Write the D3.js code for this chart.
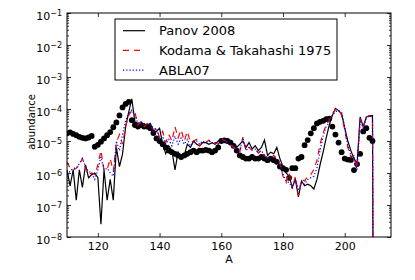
<!DOCTYPE html>
<html>
<head>
<meta charset="utf-8">
<script src="https://cdn.jsdelivr.net/npm/d3@7"></script>
<style>
body { margin: 0; background: #fff; }
text { font-family: "DejaVu Sans", sans-serif; fill: #000; }
</style>
</head>
<body>
<div id="chart"></div>
<script>
// mass numbers A of the lines (110..210), dots stop at 209
var massNumbers = d3.range(110, 211);

// log10 of abundance
var solarLog = [
 -4.76,-4.73,-4.78,-4.82,-4.87,-4.90,-4.92,-4.89,-4.84,-5.18,
 -5.12,-5.02,-4.92,-4.82,-4.72,-4.57,-4.42,-4.20,-3.95,-3.84,
 -3.78,-4.35,-4.50,-4.55,-4.50,-4.55,-4.55,-4.60,-4.75,-4.92,
 -5.00,-5.10,-5.20,-5.30,-5.35,-5.40,-5.45,-5.50,-5.45,-5.40,
 -5.35,-5.30,-5.35,-5.30,-5.30,-5.28,-5.30,-5.35,-5.30,-5.20,
 -5.00,-4.98,-5.00,-5.05,-5.15,-5.30,-5.45,-5.50,-5.55,-5.55,
 -5.50,-5.55,-5.55,-5.50,-5.55,-5.60,-5.55,-5.60,-5.65,-5.80,
 -5.85,-5.90,-6.15,-5.85,-5.85,-5.55,-5.50,-5.13,-4.97,-4.76,
 -4.60,-4.45,-4.40,-4.37,-4.32,-4.30,-4.55,-4.80,-5.05,-5.35,
 -5.55,-5.58,-5.59,-5.91,-5.72,-5.40,-4.70,-4.60,-4.90,-5.00
];
var panovLog = [
 -5.90,-6.40,-5.90,-6.85,-5.90,-6.45,-5.75,-6.15,-6.05,-6.00,
 -6.15,-7.60,-5.90,-6.85,-6.20,-6.85,-5.20,-5.80,-5.40,-4.55,
 -4.10,-3.68,-4.40,-4.45,-4.50,-4.45,-4.55,-4.45,-4.75,-4.70,
 -4.60,-5.10,-5.40,-5.15,-5.30,-5.90,-5.35,-5.50,-5.45,-5.10,
 -5.20,-5.00,-5.10,-5.15,-5.05,-5.05,-5.10,-5.05,-5.10,-5.00,
 -4.97,-4.97,-5.00,-5.05,-5.10,-5.20,-5.10,-5.00,-5.20,-5.05,
 -5.25,-5.15,-5.30,-5.20,-4.97,-5.45,-5.35,-5.40,-5.20,-5.55,
 -5.80,-6.00,-6.10,-6.45,-6.20,-6.75,-6.25,-6.40,-6.35,-6.40,
 -6.50,-6.20,-5.75,-5.35,-4.90,-4.50,-4.20,-3.98,-4.05,-4.15,
 -4.60,-5.00,-5.30,-5.55,-5.70,-4.25,-4.55,-4.25,-4.22,-4.20,
 -30
];
var kodamaLog = [
 -5.65,-5.85,-5.90,-5.85,-5.75,-5.55,-5.85,-6.05,-6.00,-6.05,
 -5.75,-5.30,-5.90,-5.90,-5.55,-5.95,-5.05,-4.80,-5.10,-4.55,
 -4.20,-4.05,-4.10,-4.50,-4.40,-4.55,-4.45,-4.50,-4.65,-4.60,
 -4.90,-4.70,-5.05,-4.80,-5.00,-4.55,-4.90,-4.65,-5.00,-4.70,
 -5.05,-5.00,-4.95,-5.15,-5.00,-5.05,-4.97,-5.10,-5.05,-5.10,
 -4.95,-4.97,-5.05,-5.10,-5.20,-5.25,-5.35,-4.88,-5.30,-5.20,
 -5.30,-5.25,-5.38,-5.30,-5.45,-5.55,-5.55,-5.45,-5.55,-5.70,
 -6.10,-6.30,-6.00,-6.50,-6.10,-6.70,-6.20,-6.25,-6.10,-6.05,
 -5.90,-5.60,-5.10,-4.75,-4.50,-4.35,-4.15,-4.02,-4.00,-4.20,
 -4.65,-5.20,-5.50,-5.45,-5.85,-4.30,-4.55,-4.25,-4.20,-4.25,
 -30
];
var ablaLog = [
 -6.05,-5.95,-5.85,-5.85,-5.70,-5.55,-5.80,-5.95,-6.00,-6.20,
 -5.90,-5.50,-5.90,-5.85,-6.00,-6.10,-5.00,-5.30,-4.80,-4.35,
 -4.15,-4.03,-4.20,-4.45,-4.40,-4.50,-4.50,-4.45,-4.70,-4.60,
 -4.95,-4.85,-5.10,-4.95,-5.15,-4.85,-5.10,-4.90,-5.10,-4.95,
 -5.15,-5.05,-5.00,-5.10,-5.00,-5.05,-5.00,-5.05,-5.05,-5.10,
 -4.97,-5.00,-5.05,-5.10,-5.15,-5.25,-5.30,-4.90,-5.30,-5.20,
 -5.25,-5.25,-5.35,-5.30,-5.45,-5.55,-5.50,-5.50,-5.60,-5.75,
 -6.05,-6.25,-6.30,-6.45,-6.20,-6.55,-6.30,-6.35,-6.20,-6.15,
 -6.10,-5.85,-5.30,-4.85,-4.55,-4.40,-4.20,-4.08,-4.05,-4.10,
 -4.55,-5.15,-5.45,-5.50,-5.90,-4.35,-4.60,-4.30,-4.20,-4.30,
 -30
];

var xTicks = [120, 140, 160, 180, 200];
var yExponents = [-8, -7, -6, -5, -4, -3, -2, -1];
var seriesNames = ["Panov 2008", "Kodama & Takahashi 1975", "ABLA07"];

var W = 415, H = 280;
var margins = {top: 13, right: 24, bottom: 43, left: 67};
var width = W - margins.left - margins.right;
var height = H - margins.top - margins.bottom;

var svg = d3.select("#chart").append("svg")
    .attr("width", W).attr("height", H);
var g = svg.append("g")
    .attr("transform", "translate(" + margins.left + "," + margins.top + ")");

var x = d3.scaleLinear().domain([110, 215]).range([0, width]);
var y = d3.scaleLog().domain([1e-8, 1e-1]).range([height, 0]);

g.append("clipPath").attr("id", "clip")
  .append("rect").attr("width", width).attr("height", height);

function toPoints(logs) {
    return logs.map(function(v, i) { return {a: massNumbers[i], v: Math.pow(10, v)}; });
}

var plot = g.append("g").attr("clip-path", "url(#clip)");

// solar points
plot.selectAll("circle.solar").data(toPoints(solarLog)).enter()
    .append("circle").attr("class", "solar")
    .attr("cx", function(d) { return x(d.a); })
    .attr("cy", function(d) { return y(d.v); })
    .attr("r", 2.9).attr("fill", "#000");

var line = d3.line()
    .x(function(d) { return x(d.a); })
    .y(function(d) { return y(d.v); });

var styles = [
    {color: "#000000", dash: null},
    {color: "#ff0000", dash: "6,5"},
    {color: "#0000ff", dash: "1.2,2"}
];
[panovLog, kodamaLog, ablaLog].forEach(function(s, i) {
    plot.append("path").attr("d", line(toPoints(s)))
        .attr("fill", "none").attr("stroke", styles[i].color)
        .attr("stroke-width", 1.2)
        .attr("stroke-dasharray", styles[i].dash);
});

// ticks, all pointing inward
var minorTicks = [];
yExponents.slice(0, -1).forEach(function(e) {
    for (var k = 2; k < 10; k++) minorTicks.push(k * Math.pow(10, e));
});
var majorY = yExponents.map(function(e) { return Math.pow(10, e); });

g.append("g").attr("transform", "translate(0," + height + ")")
    .call(d3.axisBottom(x).tickValues(xTicks).tickSize(-4).tickPadding(5));
g.append("g")
    .call(d3.axisTop(x).tickValues(xTicks).tickSize(-4).tickFormat(""));

var yAxis = g.append("g")
    .call(d3.axisLeft(y).tickValues(majorY).tickSize(-4).tickPadding(5));
g.append("g").call(d3.axisLeft(y).tickValues(minorTicks).tickSize(-2).tickFormat(""));
g.append("g").attr("transform", "translate(" + width + ",0)")
    .call(d3.axisRight(y).tickValues(majorY).tickSize(-4).tickFormat(""));
g.append("g").attr("transform", "translate(" + width + ",0)")
    .call(d3.axisRight(y).tickValues(minorTicks).tickSize(-2).tickFormat(""));

g.selectAll(".domain").remove();
g.selectAll(".tick line").attr("stroke", "#000").attr("stroke-width", 0.8);
g.selectAll(".tick text").attr("font-size", 11).attr("font-family", "DejaVu Sans");

yAxis.selectAll(".tick text").each(function(d) {
    var t = d3.select(this).text("10").attr("dy", "0.55em");
    t.append("tspan").attr("dy", "-0.5em").attr("font-size", 8)
        .text("\u2212" + Math.round(-Math.log10(d)));
});

g.append("rect").attr("width", width).attr("height", height)
    .attr("fill", "none").attr("stroke", "#000").attr("stroke-width", 1);

// axis labels
g.append("text").attr("x", width / 2).attr("y", height + 26)
    .attr("text-anchor", "middle").attr("font-size", 11).text("A");
g.append("text").attr("text-anchor", "middle").attr("font-size", 10)
    .attr("transform", "translate(" + (-32) + "," + (height / 2 - 3) + ")rotate(-90)")
    .text("abundance");

// legend
var legend = svg.append("g").attr("transform", "translate(115,19)");
legend.append("rect").attr("width", 222).attr("height", 61)
    .attr("fill", "#fff").attr("stroke", "#000").attr("stroke-width", 1);
seriesNames.forEach(function(name, i) {
    var ly = 11.7 + i * 19.7;
    legend.append("line").attr("x1", 8).attr("x2", 30).attr("y1", ly).attr("y2", ly)
        .attr("stroke", styles[i].color).attr("stroke-width", 1.2)
        .attr("stroke-dasharray", styles[i].dash);
    legend.append("text").attr("x", 44).attr("y", ly).attr("dy", "0.36em")
        .attr("font-size", 13).text(name);
});
</script>
</body>
</html>
